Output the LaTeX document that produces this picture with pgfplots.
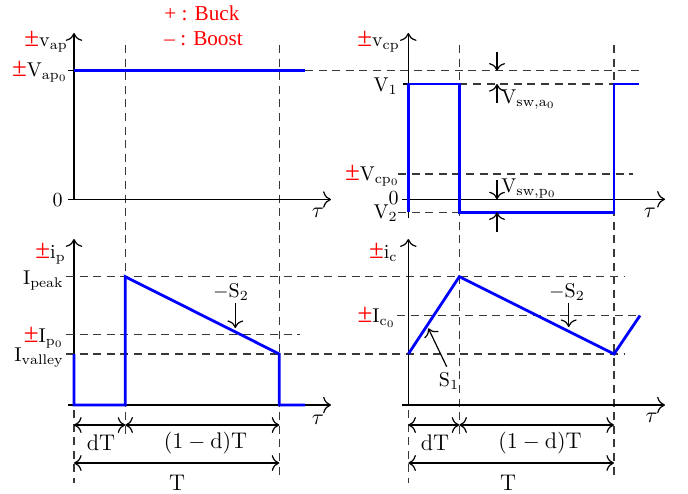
\documentclass[border=0pt]{standalone}
\usepackage{fontspec}
\usepackage{pgfplots}
\pgfplotsset{compat=1.18}
\usetikzlibrary{arrows.meta}
\newfontfamily\tms{Liberation Serif}
\newcommand\rpm{{\tms\fontsize{13.5}{14}\selectfont\color{red}±}}
\newcommand\lbl{\fontsize{11.3}{13}\selectfont}

\begin{document}
\begin{tikzpicture}[every node/.style={inner sep=0pt}]
\begin{axis}[
  x=0.5pt, y=0.5pt, y dir=reverse,
  xmin=0, xmax=688, ymin=0, ymax=493,
  hide axis, clip=false, no marks,
  dsh/.style={black!78, line width=0.7pt, dash pattern=on 4pt off 2.8pt},
  ax/.style={black, line width=0.6pt, -{To[scale=1.35]}},
  tk/.style={black, line width=0.6pt},
  sig/.style={blue, line width=1.4pt, line join=miter},
  dim/.style={black, line width=0.6pt, {To[scale=1.3]}-{To[scale=1.3]}},
  pt/.style={black, line width=0.6pt, -{To[scale=1.3]}},
]
% frame of the drawing area
\addplot[draw=none] coordinates {(0,0) (688,493)};

% ---------------- vertical time markers ----------------
\addplot[dsh] coordinates {(125.3,45) (125.3,437)};
\addplot[dsh] coordinates {(279.3,45) (279.3,477)};
\addplot[dsh] coordinates {(459.3,45) (459.3,437)};
\addplot[dsh] coordinates {(614,45) (614,477)};
\addplot[dsh] coordinates {(74,410) (74,483)};
\addplot[dsh] coordinates {(408.3,410) (408.3,483)};

% ---------------- v_ap ----------------
\addplot[ax] coordinates {(74,199.5) (74,33)};
\addplot[ax] coordinates {(68,199.5) (331,199.5)};
\addplot[tk] coordinates {(68,70.7) (74,70.7)};
\addplot[dsh] coordinates {(305,70.7) (642,70.7)};
\addplot[sig] coordinates {(74,70.7) (305,70.7)};
\node[anchor=base east] at (axis cs:68,46) {\rpm$\mathrm{v_{ap}}$};
\node[anchor=base east] at (axis cs:68,76) {\rpm$\mathrm{V_{ap_0}}$};
\node[anchor=east] at (axis cs:63,200) {$0$};
\node[font=\lbl] at (axis cs:318,213) {$\tau$};
\node[anchor=base west, text=red, font=\tms\fontsize{10.6}{12}\selectfont] at (axis cs:164,20) {+ : Buck};
\node[anchor=base west, text=red, font=\tms\fontsize{10.6}{12}\selectfont] at (axis cs:164,45) {– : Boost};

% ---------------- v_cp ----------------
\addplot[ax] coordinates {(408.3,218) (408.3,33)};
\addplot[ax] coordinates {(401.7,199.3) (665,199.3)};
\addplot[tk] coordinates {(402.7,84) (408.3,84)};
\addplot[dsh] coordinates {(459.3,84) (614,84)};
\addplot[dsh] coordinates {(398,174) (633,174)};
\addplot[dsh] coordinates {(398,212.3) (459.3,212.3)};
\addplot[sig] coordinates {(408.3,212.3) (408.3,84) (459.3,84) (459.3,212.3) (614,212.3) (614,84) (639,84)};
\addplot[pt] coordinates {(497,51.7) (497,70.7)};
\addplot[pt] coordinates {(497,103) (497,84)};
\addplot[pt] coordinates {(497,180) (497,199.3)};
\addplot[pt] coordinates {(497,232) (497,212.3)};
\node[anchor=base east] at (axis cs:400,46) {\rpm$\mathrm{v_{cp}}$};
\node[anchor=base east] at (axis cs:398,91.5) {$\mathrm{V_1}$};
\node[anchor=base east] at (axis cs:400,180) {\rpm$\mathrm{V_{cp_0}}$};
\node[anchor=east] at (axis cs:399,198) {$0$};
\node[anchor=base east] at (axis cs:398,218) {$\mathrm{V_2}$};
\node[anchor=base west] at (axis cs:501,103) {$\mathrm{V_{sw,a_0}}$};
\node[anchor=base west] at (axis cs:501,192) {$\mathrm{V_{sw,p_0}}$};
\node[font=\lbl] at (axis cs:650,213) {$\tau$};

% ---------------- i_p ----------------
\addplot[ax] coordinates {(74,405) (74,239)};
\addplot[ax] coordinates {(68,405) (331,405)};
\addplot[dsh] coordinates {(66,276.7) (625,276.7)};
\addplot[dsh] coordinates {(66,334.3) (300,334.3)};
\addplot[dsh] coordinates {(66,354) (625,354)};
\addplot[sig] coordinates {(74,354) (74,405) (125.3,405) (125.3,276.7) (279.3,354) (279.3,405) (305,405)};
\addplot[pt] coordinates {(235.3,302.7) (235.3,328)};
\addplot[dim] coordinates {(74,425) (125.3,425)};
\addplot[dim] coordinates {(125.3,425) (279.3,425)};
\addplot[dim] coordinates {(74,463) (279.3,463)};
\node[anchor=base east] at (axis cs:66,258) {\rpm$\mathrm{i_p}$};
\node[anchor=base east] at (axis cs:64,284) {$\mathrm{I_{peak}}$};
\node[anchor=base east] at (axis cs:64,342) {\rpm$\mathrm{I_{p_0}}$};
\node[anchor=base east] at (axis cs:64,361) {$\mathrm{I_{valley}}$};
\node[anchor=base] at (axis cs:231,297) {$\mathrm{-S_2}$};
\node[font=\lbl] at (axis cs:318,420) {$\tau$};
\node[font=\lbl] at (axis cs:101,443) {$\mathrm{dT}$};
\node[font=\lbl] at (axis cs:205.5,443) {$\mathrm{(1-d)T}$};
\node[font=\lbl] at (axis cs:177,482.5) {$\mathrm{T}$};

% ---------------- i_c ----------------
\addplot[ax] coordinates {(408.3,405) (408.3,239)};
\addplot[ax] coordinates {(401.7,405) (665,405)};
\addplot[dsh] coordinates {(397,315.5) (640,315.5)};
\addplot[sig] coordinates {(408.3,354) (459.3,276.7) (614,354) (640,315.5)};
\addplot[pt] coordinates {(568.7,302.7) (568.7,327)};
\addplot[pt] coordinates {(446.7,366.7) (428.3,328.3)};
\addplot[dim] coordinates {(408.3,425) (459.3,425)};
\addplot[dim] coordinates {(459.3,425) (614,425)};
\addplot[dim] coordinates {(408.3,463) (614,463)};
\node[anchor=base east] at (axis cs:398,258) {\rpm$\mathrm{i_c}$};
\node[anchor=base east] at (axis cs:396,322) {\rpm$\mathrm{I_{c_0}}$};
\node[anchor=base] at (axis cs:567,297) {$\mathrm{-S_2}$};
\node[anchor=base] at (axis cs:449,386.5) {$\mathrm{S_1}$};
\node[font=\lbl] at (axis cs:651.7,418) {$\tau$};
\node[font=\lbl] at (axis cs:435,443) {$\mathrm{dT}$};
\node[font=\lbl] at (axis cs:540,443) {$\mathrm{(1-d)T}$};
\node[font=\lbl] at (axis cs:508,482.5) {$\mathrm{T}$};
\end{axis}
\end{tikzpicture}
\end{document}
